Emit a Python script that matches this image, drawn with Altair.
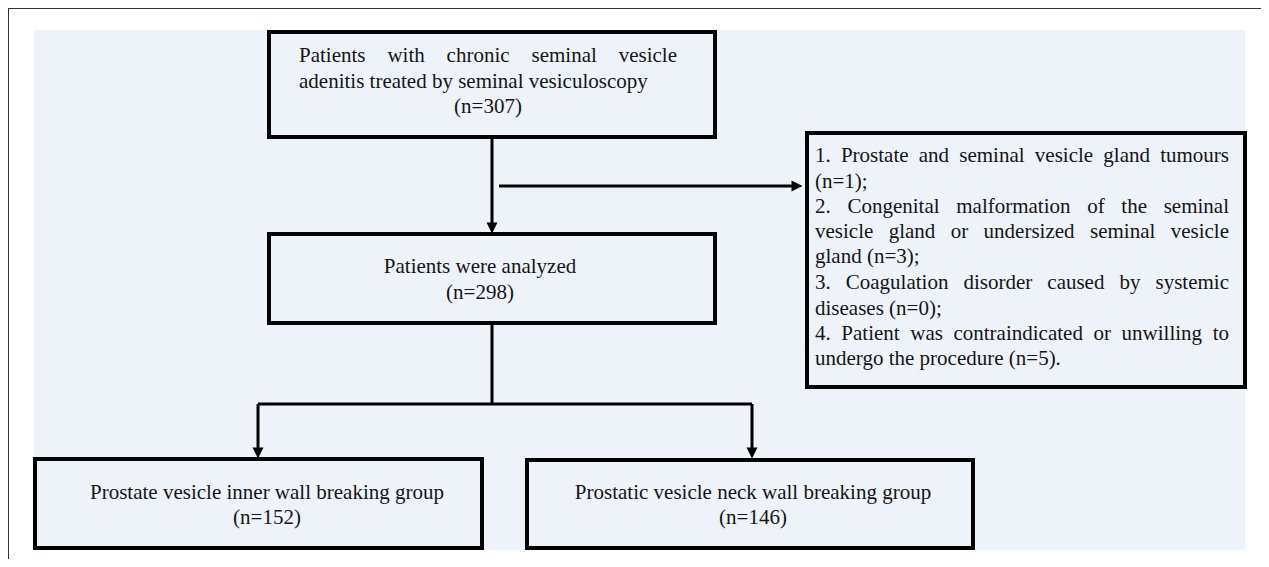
import altair as alt
import pandas as pd

# ---------------- content ----------------
top_lines = ["Patients with chronic seminal vesicle",
             "adenitis treated by seminal vesiculoscopy",
             "(n=307)"]
mid_lines = ["Patients were analyzed", "(n=298)"]
excl_lines = ["1. Prostate and seminal vesicle gland tumours",
              "(n=1);",
              "2. Congenital malformation of the seminal",
              "vesicle gland or undersized seminal vesicle",
              "gland (n=3);",
              "3. Coagulation disorder caused by systemic",
              "diseases (n=0);",
              "4. Patient was contraindicated or unwilling to",
              "undergo the procedure (n=5)."]
excl_justified = [True, False, True, True, False, True, False, True, False]
left_lines = ["Prostate vesicle inner wall breaking group", "(n=152)"]
right_lines = ["Prostatic vesicle neck wall breaking group", "(n=146)"]

# ---------------- layout (image pixel coordinates) ----------------
FONT = "Liberation Serif"
FS = 21
boxes = pd.DataFrame({
    "name": ["top", "mid", "excl", "left", "right"],
    "x1": [269, 269, 807, 35, 527],
    "x2": [715, 715, 1245, 482, 973],
    "y1": [32, 234, 133, 459, 460],
    "y2": [137, 323, 387, 548, 548],
})
lines = pd.DataFrame({
    "x1": [492, 499, 492, 258, 258, 752],
    "x2": [492, 797, 492, 752, 258, 752],
    "y1": [137, 186, 323, 404, 404, 404],
    "y2": [226, 186, 404, 404, 452, 452],
})
heads = pd.DataFrame({
    "x": [492, 797, 258, 752],
    "y": [228, 186, 453, 453],
    "dir": ["down", "right", "down", "down"],
})

# Times / Liberation Serif advance widths (per 1000 em)
CW = {' ': 250, '.': 250, ',': 250, ';': 278, '(': 333, ')': 333, '=': 564,
      'A': 722, 'B': 667, 'C': 667, 'D': 722, 'E': 611, 'F': 556, 'G': 722, 'H': 722,
      'I': 333, 'J': 389, 'K': 722, 'L': 611, 'M': 889, 'N': 722, 'O': 722, 'P': 556,
      'Q': 722, 'R': 667, 'S': 556, 'T': 611, 'U': 722, 'V': 722, 'W': 944, 'X': 722,
      'Y': 722, 'Z': 611,
      'a': 444, 'b': 500, 'c': 444, 'd': 500, 'e': 444, 'f': 333, 'g': 500, 'h': 500,
      'i': 278, 'j': 278, 'k': 500, 'l': 278, 'm': 778, 'n': 500, 'o': 500, 'p': 500,
      'q': 500, 'r': 333, 's': 389, 't': 278, 'u': 500, 'v': 500, 'w': 722, 'x': 500,
      'y': 500, 'z': 444}


def tw(s):
    return sum(CW.get(c, 500) for c in s) / 1000.0 * FS


def justify(line, x0, x1):
    words = line.split(" ")
    total = sum(tw(w) for w in words)
    gap = (x1 - x0 - total) / (len(words) - 1)
    out = []
    x = x0
    for w in words:
        out.append((w, x))
        x += tw(w) + gap
    return out


left_rows = []    # left-aligned text pieces
center_rows = []  # centered text pieces

# top box
for w, x in justify(top_lines[0], 299, 677):
    left_rows.append({"t": w, "x": x, "y": 56})
left_rows.append({"t": top_lines[1], "x": 299, "y": 82})
center_rows.append({"t": top_lines[2], "x": 488, "y": 107})

# middle box
center_rows.append({"t": mid_lines[0], "x": 480, "y": 267})
center_rows.append({"t": mid_lines[1], "x": 480, "y": 293})

# exclusion box
ys = [156, 182, 207, 232, 257, 283, 309, 334, 359]
for line, j, y in zip(excl_lines, excl_justified, ys):
    if j:
        for w, x in justify(line, 815, 1229):
            left_rows.append({"t": w, "x": x, "y": y})
    else:
        left_rows.append({"t": line, "x": 815, "y": y})

# bottom boxes
center_rows.append({"t": left_lines[0], "x": 267, "y": 493})
center_rows.append({"t": left_lines[1], "x": 267, "y": 518})
center_rows.append({"t": right_lines[0], "x": 753, "y": 493})
center_rows.append({"t": right_lines[1], "x": 753, "y": 518})

left_df = pd.DataFrame(left_rows)
center_df = pd.DataFrame(center_rows)

# ---------------- scales ----------------
XS = alt.Scale(domain=[8, 1261], nice=False, zero=False)
YS = alt.Scale(domain=[8, 559], nice=False, zero=False, reverse=True)
BG = "#EEF2F9"

frame = pd.DataFrame({"x1": [8, 8], "x2": [1261, 8], "y1": [8, 8], "y2": [8, 559]})
frame_layer = alt.Chart(frame).mark_rule(color="#333333", strokeWidth=2).encode(
    x=alt.X("x1:Q", scale=XS, axis=None), x2="x2:Q",
    y=alt.Y("y1:Q", scale=YS, axis=None), y2="y2:Q")

bg = pd.DataFrame({"x1": [34], "x2": [1245], "y1": [30], "y2": [550]})
bg_layer = alt.Chart(bg).mark_rect(fill=BG).encode(
    x=alt.X("x1:Q", scale=XS, axis=None), x2="x2:Q",
    y=alt.Y("y1:Q", scale=YS, axis=None), y2="y2:Q")

box_layer = alt.Chart(boxes).mark_rect(fill=BG, stroke="black", strokeWidth=4).encode(
    x=alt.X("x1:Q", scale=XS, axis=None), x2="x2:Q",
    y=alt.Y("y1:Q", scale=YS, axis=None), y2="y2:Q")

line_layer = alt.Chart(lines).mark_rule(color="black", strokeWidth=3).encode(
    x=alt.X("x1:Q", scale=XS, axis=None), x2="x2:Q",
    y=alt.Y("y1:Q", scale=YS, axis=None), y2="y2:Q")

down_layer = alt.Chart(heads[heads["dir"] == "down"]).mark_point(
    shape="M-1,-1L1,-1L0,1Z", filled=True, size=121, color="black", opacity=1).encode(
    x=alt.X("x:Q", scale=XS, axis=None), y=alt.Y("y:Q", scale=YS, axis=None))
right_layer = alt.Chart(heads[heads["dir"] == "right"]).mark_point(
    shape="M-1,-1L1,0L-1,1Z", filled=True, size=121, color="black", opacity=1).encode(
    x=alt.X("x:Q", scale=XS, axis=None), y=alt.Y("y:Q", scale=YS, axis=None))

text_left = alt.Chart(left_df).mark_text(
    font=FONT, fontSize=FS, align="left", baseline="middle", color="#151515").encode(
    x=alt.X("x:Q", scale=XS, axis=None), y=alt.Y("y:Q", scale=YS, axis=None), text="t:N")
text_center = alt.Chart(center_df).mark_text(
    font=FONT, fontSize=FS, align="center", baseline="middle", color="#151515").encode(
    x=alt.X("x:Q", scale=XS, axis=None), y=alt.Y("y:Q", scale=YS, axis=None), text="t:N")

chart = alt.layer(frame_layer, bg_layer, box_layer, line_layer, down_layer, right_layer,
                  text_left, text_center).properties(
    width=1253, height=551, padding=0, autosize="none", background="white"
).configure_view(stroke=None)

chart.save("out.html", embed_options={"renderer": "svg", "actions": False})
